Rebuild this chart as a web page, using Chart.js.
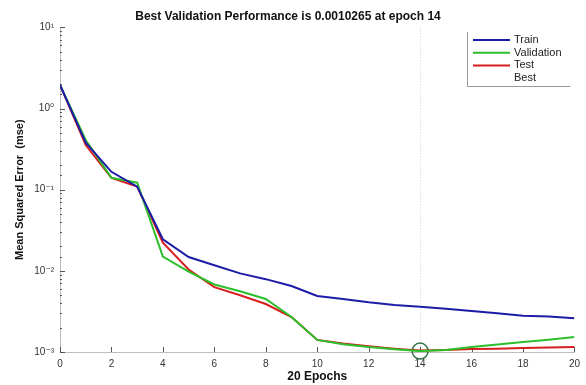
<!DOCTYPE html>
<html>
<head>
<meta charset="utf-8">
<script src="https://cdn.jsdelivr.net/npm/chart.js@4.4.0/dist/chart.umd.min.js"></script>
<style>
    html, body { margin: 0; padding: 0; background: #fff; }
    #wrap { width: 586px; height: 385px; }
</style>
</head>
<body>
<div id="wrap"><canvas id="perfChart"></canvas></div>
<script>
// --- DATA ---
const epochs = [0, 1, 2, 3, 4, 5, 6, 7, 8, 9, 10, 11, 12, 13, 14, 15, 16, 17, 18, 19, 20];
const trainMse = [1.95, 0.38, 0.166, 0.109, 0.0245, 0.0148, 0.0117, 0.0093, 0.0079, 0.0065, 0.0049,
                  0.0045, 0.0041, 0.0038, 0.0036, 0.0034, 0.0032, 0.0030, 0.0028, 0.00273, 0.0026];
const validationMse = [1.95, 0.41, 0.14, 0.122, 0.015, 0.0098, 0.0068, 0.0056, 0.0045, 0.0027, 0.00141,
                       0.00125, 0.00115, 0.00108, 0.0010265, 0.00106, 0.00115, 0.00124, 0.00133, 0.00142, 0.00153];
const testMse = [1.95, 0.355, 0.14, 0.109, 0.0223, 0.0104, 0.0063, 0.0050, 0.0039, 0.0027, 0.00141,
                 0.00127, 0.00118, 0.00110, 0.00104, 0.00106, 0.00109, 0.00110, 0.00112, 0.00114, 0.00115];
const bestEpoch = 14;
const bestValue = 0.0010265;

const xTicks = [0, 2, 4, 6, 8, 10, 12, 14, 16, 18, 20];
const yDecades = [0.001, 0.01, 0.1, 1, 10];
const yTickLabels = ['10\u207B\u00B3', '10\u207B\u00B2', '10\u207B\u00B9', '10\u2070', '10\u00B9'];

const legendNames = ['Train', 'Validation', 'Test', 'Best'];
const lineColors = ['#1c1ca8', '#2cbf2c', '#d81e1e'];

function toPoints(values) {
    return epochs.map((e, i) => ({ x: e, y: values[i] }));
}

// --- PLUGIN: MATLAB style inward ticks, best epoch line, boxed legend ---
const matlabAxes = {
    id: 'matlabAxes',
    beforeDatasetsDraw(chart) {
        const { ctx, chartArea: a, scales: { x, y } } = chart;
        ctx.save();

        // dotted guide at best epoch
        const bx = Math.round(x.getPixelForValue(bestEpoch)) + 0.5;
        ctx.strokeStyle = '#cfcfcf';
        ctx.lineWidth = 1;
        ctx.setLineDash([1, 2]);
        ctx.beginPath();
        ctx.moveTo(bx, a.top);
        ctx.lineTo(bx, a.bottom);
        ctx.stroke();
        ctx.setLineDash([]);

        // x ticks pointing up
        ctx.strokeStyle = '#555';
        ctx.beginPath();
        xTicks.forEach(v => {
            const px = Math.round(x.getPixelForValue(v)) + 0.5;
            ctx.moveTo(px, a.bottom);
            ctx.lineTo(px, a.bottom - 5);
        });
        ctx.stroke();

        // y ticks pointing right (decades long, minors short)
        ctx.beginPath();
        y.ticks.forEach(t => {
            const py = Math.round(y.getPixelForValue(t.value)) + 0.5;
            const major = yDecades.some(d => Math.abs(d - t.value) < d * 1e-6);
            ctx.moveTo(a.left, py);
            ctx.lineTo(a.left + (major ? 5 : 2), py);
        });
        ctx.stroke();
        ctx.restore();
    },
    afterDraw(chart) {
        const { ctx, chartArea: a } = chart;
        const left = 467, top = 32, right = a.right - 4, bottom = 86;
        ctx.save();
        ctx.strokeStyle = '#9a9a9a';
        ctx.lineWidth = 1;
        ctx.beginPath();
        ctx.moveTo(left + 0.5, top);
        ctx.lineTo(left + 0.5, bottom + 0.5);
        ctx.lineTo(right, bottom + 0.5);
        ctx.stroke();

        ctx.font = '11px "Liberation Sans", Arial, sans-serif';
        ctx.textBaseline = 'middle';
        ctx.fillStyle = '#222';
        legendNames.forEach((name, i) => {
            const ly = 40 + i * 12.7;
            if (i < lineColors.length) {
                ctx.strokeStyle = lineColors[i];
                ctx.lineWidth = 2;
                ctx.beginPath();
                ctx.moveTo(473, ly);
                ctx.lineTo(510, ly);
                ctx.stroke();
            }
            ctx.fillText(name, 514, ly);
        });
        ctx.restore();
    }
};

// --- CHART ---
const ctx = document.getElementById('perfChart').getContext('2d');
const perfChart = new Chart(ctx, {
    type: 'line',
    data: {
        datasets: [
            { label: 'Train', data: toPoints(trainMse), borderColor: lineColors[0], borderWidth: 2, pointRadius: 0, tension: 0 },
            { label: 'Validation', data: toPoints(validationMse), borderColor: lineColors[1], borderWidth: 2, pointRadius: 0, tension: 0 },
            { label: 'Test', data: toPoints(testMse), borderColor: lineColors[2], borderWidth: 2, pointRadius: 0, tension: 0 },
            {
                label: 'Best', data: [{ x: bestEpoch, y: bestValue }], showLine: false, clip: false,
                pointRadius: 8, pointBorderWidth: 1.5, pointBorderColor: '#2f6f45', pointBackgroundColor: 'rgba(0,0,0,0)'
            }
        ]
    },
    options: {
        responsive: true, maintainAspectRatio: false,
        animation: false,
        layout: { padding: { left: 0, right: 10, top: 0, bottom: 0 } },
        plugins: {
            legend: { display: false },
            tooltip: { enabled: false },
            title: {
                display: true,
                text: 'Best Validation Performance is 0.0010265 at epoch 14',
                color: '#111',
                font: { family: '"Liberation Sans", Arial, sans-serif', size: 12, weight: 'bold' },
                padding: { top: 9, bottom: 4 }
            }
        },
        scales: {
            x: {
                type: 'linear', min: 0, max: 20,
                grid: { display: false, drawTicks: false },
                border: { display: true, color: '#bdbdbd' },
                afterBuildTicks: scale => { scale.ticks = xTicks.map(v => ({ value: v })); },
                afterFit: scale => { scale.height = 33; },
                ticks: {
                    padding: 6, color: '#333', maxRotation: 0,
                    font: { family: '"Liberation Sans", Arial, sans-serif', size: 10 }
                },
                title: {
                    display: true, text: '20 Epochs', color: '#111',
                    font: { family: '"Liberation Sans", Arial, sans-serif', size: 12, weight: 'bold' },
                    padding: { top: 0, bottom: 1 }
                }
            },
            y: {
                type: 'logarithmic', min: 0.001, max: 10,
                grid: { display: false, drawTicks: false },
                border: { display: true, color: '#bdbdbd' },
                afterFit: scale => { scale.width = 60; },
                ticks: {
                    autoSkip: false, padding: 6, color: '#333',
                    font: { family: '"Liberation Sans", "DejaVu Sans", Arial, sans-serif', size: 10 },
                    callback: function (value) {
                        const k = yDecades.findIndex(d => Math.abs(d - value) < d * 1e-6);
                        return k >= 0 ? yTickLabels[k] : '';
                    }
                },
                title: {
                    display: true, text: 'Mean Squared Error  (mse)', color: '#111',
                    font: { family: '"Liberation Sans", Arial, sans-serif', size: 11, weight: 'bold' },
                    padding: { top: 13, bottom: 0 }
                }
            }
        }
    },
    plugins: [matlabAxes]
});
</script>
</body>
</html>
